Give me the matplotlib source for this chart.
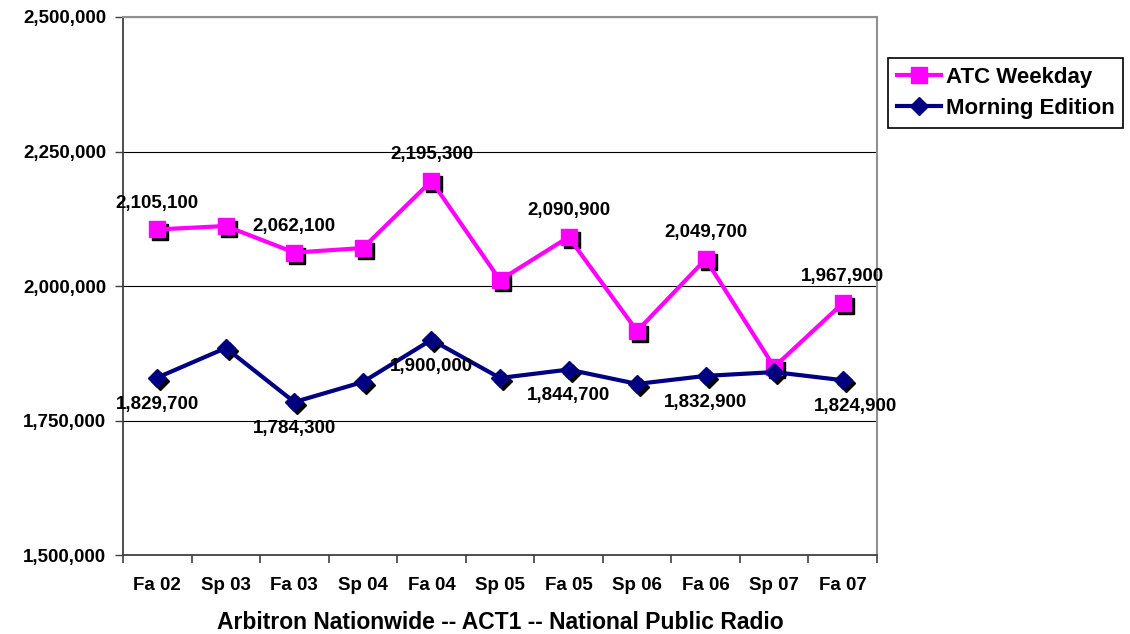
import numpy as np
import matplotlib
matplotlib.use('Agg')
import matplotlib.pyplot as plt
from matplotlib.transforms import offset_copy
from matplotlib.ticker import FuncFormatter

plt.rcParams['font.family'] = ['Liberation Sans', 'DejaVu Sans']
plt.rcParams['font.weight'] = 'bold'

terms = ['Fa 02', 'Sp 03', 'Fa 03', 'Sp 04', 'Fa 04', 'Sp 05',
         'Fa 05', 'Sp 06', 'Fa 06', 'Sp 07', 'Fa 07']
atc = [2105100, 2111500, 2062100, 2070600, 2195300, 2011000,
       2090900, 1916400, 2049700, 1849400, 1967900]
morning = [1829700, 1884800, 1784300, 1821600, 1900000, 1829000,
           1844700, 1818000, 1832900, 1840000, 1824900]

fig = plt.figure(figsize=(11.3, 6.34), dpi=100)
ax = fig.add_axes([123/1130, 1 - 555/634, (877-123)/1130, (555-17)/634])

x = np.arange(len(terms))
shadow = offset_copy(ax.transData, fig=fig, x=3, y=-3, units='dots')

# drop shadows under the markers
ax.plot(x, atc, ls='none', marker='s', ms=11.5, color='black', transform=shadow, zorder=3)
ax.plot(x, morning, ls='none', marker='D', ms=9.5, color='black', transform=shadow, zorder=3)

ax.plot(x, atc, color='#FF00FF', lw=3, marker='s', ms=11.5, label='ATC Weekday', zorder=4)
ax.plot(x, morning, color='#000080', lw=3, marker='D', ms=9.5, label='Morning Edition', zorder=4)

# labels on the fall books only
for i in range(0, len(terms), 2):
    ax.annotate(f'{atc[i]:,}', (x[i], atc[i]), xytext=(0, 19),
                textcoords='offset points', ha='center', va='center',
                fontsize=13.5, fontweight='bold', zorder=5)
    dx = 9 if i == 10 else 0
    ax.annotate(f'{morning[i]:,}', (x[i], morning[i]), xytext=(dx, -19),
                textcoords='offset points', ha='center', va='center',
                fontsize=13.5, fontweight='bold', zorder=5)

ax.set_xlim(-0.5, len(terms) - 0.5)
ax.set_ylim(1500000, 2500000)
ax.set_yticks(np.arange(1500000, 2500001, 250000))
ax.yaxis.set_major_formatter(FuncFormatter(lambda v, p: f'{int(v):,}'))
ax.grid(axis='y', color='black', lw=0.8)
ax.set_axisbelow(True)

ax.set_xticks(x)
ax.set_xticklabels(terms)
ax.set_xticks(np.arange(-0.5, len(terms)), minor=True)
ax.tick_params(axis='x', which='major', length=0, pad=16, labelsize=13.5)
ax.tick_params(axis='x', which='minor', length=6, width=1.2, color='#404040', direction='out')
ax.tick_params(axis='y', length=6, width=1, color='#404040', direction='out', labelsize=13.5, pad=6)

for s in ['left', 'bottom']:
    ax.spines[s].set_color('#404040')
    ax.spines[s].set_linewidth(1.3)
for s in ['top', 'right']:
    ax.spines[s].set_color('#909090')
    ax.spines[s].set_linewidth(1.5)

ax.set_xlabel('Arbitron Nationwide -- ACT1 -- National Public Radio',
              fontsize=16.5, fontweight='bold', labelpad=12)

leg = ax.legend(loc='upper left', bbox_to_anchor=(888/754 - 123/754, 1 - 41/538),
                fontsize=16, frameon=True, fancybox=False, edgecolor='black', framealpha=1,
                borderpad=0.4, handlelength=2.0, handletextpad=0.2, labelspacing=0.45,
                borderaxespad=0)
leg.get_frame().set_linewidth(1.2)
for t in leg.get_texts():
    t.set_fontweight('bold')

fig.savefig('out.png', dpi=100)
